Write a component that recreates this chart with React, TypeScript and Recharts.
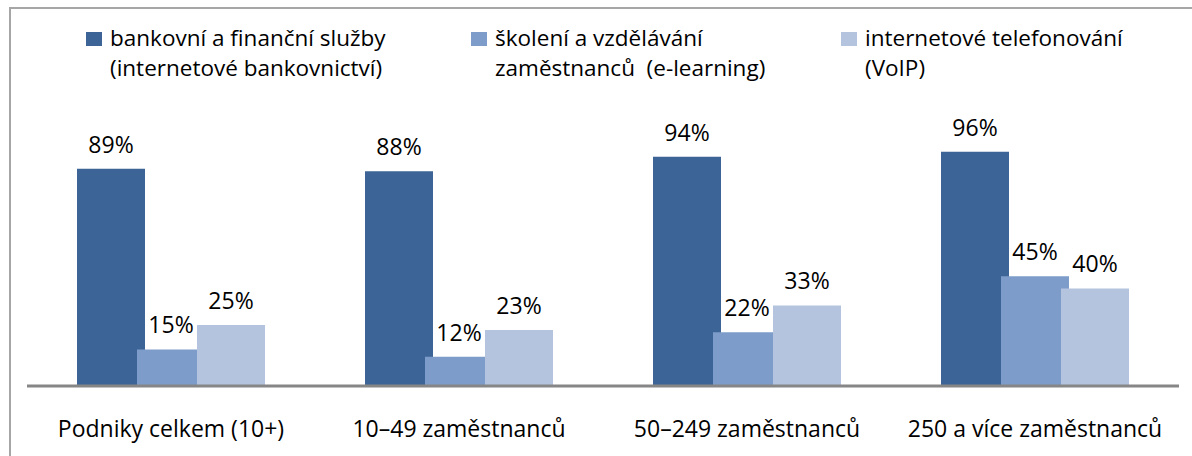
import { BarChart, Bar, XAxis, YAxis, LabelList } from "recharts";

const categories = ["Podniky celkem (10+)", "10–49 zaměstnanců", "50–249 zaměstnanců", "250 a více zaměstnanců"];
const banking = [89, 88, 94, 96];
const elearning = [15, 12, 22, 45];
const voip = [25, 23, 33, 40];

const seriesNames = [
  ["bankovní a finanční služby", "(internetové bankovnictví)"],
  ["školení a vzdělávání", "zaměstnanců  (e-learning)"],
  ["internetové telefonování", "(VoIP)"],
];
const COLORS = ["#3d6496", "#7d9cca", "#b5c4de"];
const LEGEND_LEFT = [86, 471, 841];

const data = categories.map((name, i) => ({ name, banking: banking[i], elearning: elearning[i], voip: voip[i] }));

const FONT = "'Open Sans', sans-serif";

const renderTick = (props: any) => {
  const { x, y, payload } = props;
  return (
    <text x={x} y={y + 34} textAnchor="middle" dominantBaseline="central" fontSize={23} fontFamily={FONT} fill="#000">
      {payload.value}
    </text>
  );
};

const labelFmt = (v: any) => `${v}%`;
const labelStyle = { fontSize: 23, fontFamily: FONT, fill: "#000" };

export default function App() {
  return (
    <div style={{ position: "absolute", left: 0, top: 0, width: 1192, height: 456, overflow: "hidden", background: "#fff" }}>
      <div style={{ position: "absolute", left: 9, top: 7, width: 1200, height: 470, border: "2px solid #a6a6a6" }} />
      {/* legenda */}
      {seriesNames.map((lines, i) => (
        <div key={i} style={{ position: "absolute", left: LEGEND_LEFT[i], top: 23, display: "flex", alignItems: "flex-start", fontFamily: FONT }}>
          <div style={{ width: 16, height: 14, background: COLORS[i], marginTop: 9, marginRight: 8 }} />
          <div style={{ fontSize: 22.5, lineHeight: "30px", color: "#000" }}>
            {lines.map((l, j) => <div key={j} style={{ whiteSpace: "pre" }}>{l}</div>)}
          </div>
        </div>
      ))}
      <div style={{ position: "absolute", left: 0, top: 0 }}>
        <BarChart width={1192} height={456} data={data} margin={{ top: 142, right: 13, bottom: 30, left: 27 }} barSize={68} barGap={-8}>
          <XAxis dataKey="name" height={40} tickLine={false} axisLine={{ stroke: "#868686", strokeWidth: 3 }} tick={renderTick} interval={0} />
          <YAxis hide domain={[0, 100]} />
          <Bar dataKey="banking" fill={COLORS[0]} isAnimationActive={false}>
            <LabelList dataKey="banking" position="top" offset={16} formatter={labelFmt} style={labelStyle} />
          </Bar>
          <Bar dataKey="elearning" fill={COLORS[1]} isAnimationActive={false}>
            <LabelList dataKey="elearning" position="top" offset={16} formatter={labelFmt} style={labelStyle} />
          </Bar>
          <Bar dataKey="voip" fill={COLORS[2]} isAnimationActive={false}>
            <LabelList dataKey="voip" position="top" offset={16} formatter={labelFmt} style={labelStyle} />
          </Bar>
        </BarChart>
      </div>
    </div>
  );
}
